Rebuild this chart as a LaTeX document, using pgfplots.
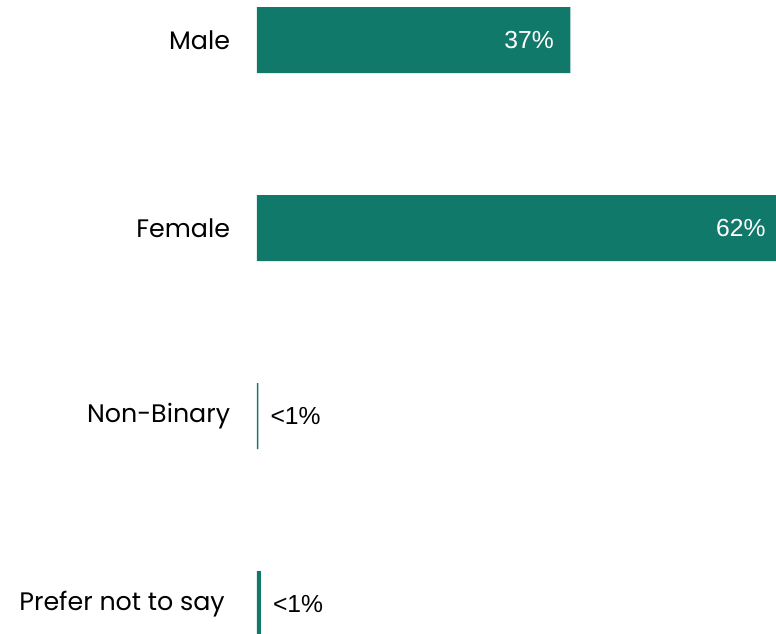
\documentclass[border=0pt]{standalone}
\usepackage{pgfplots}
\pgfplotsset{compat=1.18}
\usepackage{fontspec}
\setmainfont{Liberation Sans}
\newfontfamily\catfont{Poppins}
\definecolor{barteal}{RGB}{16,121,106}
\begin{document}
\begin{tikzpicture}
\begin{axis}[
  name=ax,
  scale only axis,
  width=400.2pt, height=474.75pt,
  xmin=0, xmax=63,
  ymin=-0.2128, ymax=3.154,
  y dir=reverse,
  clip=false,
  xbar, bar width=49.5pt,
  axis line style={draw=none},
  hide x axis,
  ytick={0,1,2,3},
  yticklabels={Male,Female,Non-Binary,Prefer not to say\hspace*{4pt}},
  major tick length=0pt,
  yticklabel style={font=\catfont\fontsize{19}{22}\selectfont, inner sep=0pt, xshift=-20pt, anchor=east},
]
\addplot[fill=barteal, draw=none, bar shift=0pt,
  nodes near coords={\pgfmathprintnumber[assume math mode=true]{\pgfplotspointmeta}\%},
  point meta=x,
  every node near coord/.style={anchor=east, xshift=-12.3pt, inner sep=0pt, text=white, font=\fontsize{18.5}{20}\selectfont}]
  coordinates {(37,0) (62,1)};
\addplot[fill=barteal, draw=none, bar shift=0pt,
  nodes near coords={<1\%},
  every node near coord/.style={anchor=west, xshift=9pt, inner sep=0pt, text=black, font=\fontsize{18.5}{20}\selectfont}]
  coordinates {(0.15,2) (0.45,3)};
\end{axis}
\pgfresetboundingbox
\path[use as bounding box] (ax.north west) ++(-192.75pt,0) rectangle ++(582pt,-474.75pt);
\end{tikzpicture}
\end{document}
